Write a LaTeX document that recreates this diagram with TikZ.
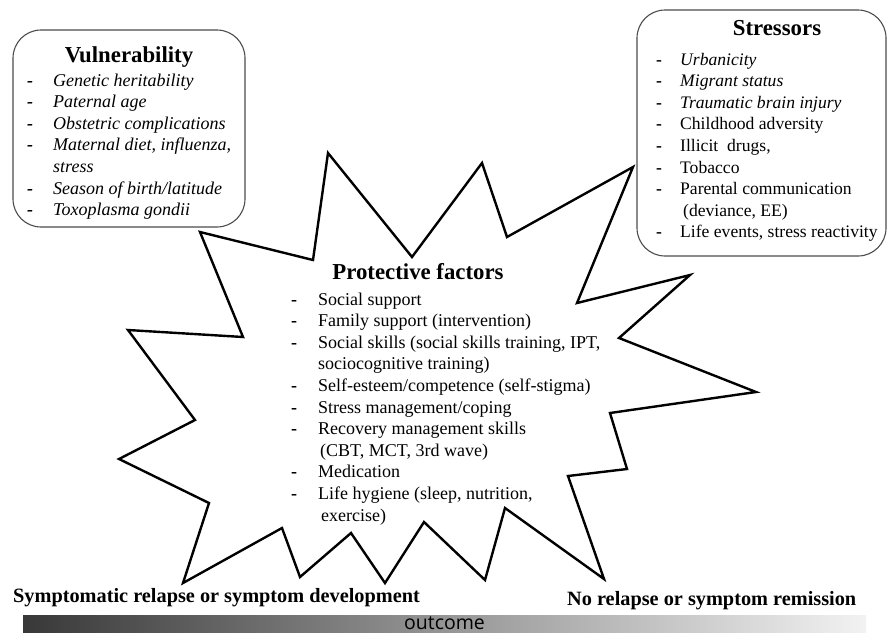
\documentclass[tikz,border=0pt]{standalone}
\usepackage{fontspec}
\setmainfont{Liberation Serif}
\newfontfamily\barfont{Open Sans}
\usepackage{array}
\usetikzlibrary{positioning}

\tikzset{
    riskbox/.style={draw=black!70, line width=1.1pt, rounded corners=28pt, inner sep=0pt},
    boxtitle/.style={font=\fontsize{22.8}{26}\selectfont\bfseries, inner sep=0pt, anchor=base},
    listtext/.style={font=\fontsize{18}{21.6}\selectfont, inner sep=0pt, anchor=base west},
    outcomelabel/.style={font=\fontsize{20.3}{24}\selectfont\bfseries, inner sep=0pt, anchor=base west},
    starline/.style={line width=2.4pt, line join=miter},
    outcomebar/.style={left color=black!78, right color=black!5, inner sep=0pt,
        minimum width=843pt, minimum height=17pt, font=\barfont\fontsize{19.5}{22}\selectfont}
}
\newcommand{\dashrow}[1]{\textbf{-}&#1\\}
\newcommand{\controw}[1]{&#1\\}

\begin{document}
\begin{tikzpicture}[x=1pt, y=-1pt]
    \useasboundingbox (0,0) rectangle (888,633);

    % Protective factors star
    \draw[starline] (200,232) -- (313,260) -- (328,153) -- (412,257) -- (482,163)
        -- (507,237) -- (633,167) -- (577,303) -- (690,275) -- (619,338)
        -- (756,392) -- (610,413) -- (627,469) -- (568,476) -- (604,579)
        -- (505,508) -- (485,580) -- (424,522) -- (385,583) -- (351,533)
        -- (300,577) -- (282,528) -- (183,583) -- (209,503) -- (119,459)
        -- (195,420) -- (128,330) -- (243,337) -- cycle;

    % Vulnerability
    \node[riskbox, minimum width=232pt, minimum height=197pt] (vuln) at (129,128.5) {};
    \node[boxtitle] (vulnT) at (129,62) {Vulnerability};
    \node[listtext] (vulnL) at (27,86) {\itshape
        \begin{tabular}[t]{@{}p{26pt}@{}l@{}}
        \dashrow{Genetic heritability}
        \dashrow{Paternal age}
        \dashrow{Obstetric complications}
        \dashrow{Maternal diet, influenza,}
        \controw{stress}
        \dashrow{Season of birth/latitude}
        \dashrow{Toxoplasma gondii}
        \end{tabular}};

    % Stressors
    \node[riskbox, minimum width=249pt, minimum height=246pt] (stress) at (761.5,133) {};
    \node[boxtitle] (stressT) at (777,35) {Stressors};
    \node[listtext, font=\fontsize{17.6}{21.6}\selectfont] (stressL) at (656,65) {%
        \begin{tabular}[t]{@{}p{24pt}@{}l@{}}
        \dashrow{\textit{Urbanicity}}
        \dashrow{\textit{Migrant status}}
        \dashrow{\textit{Traumatic brain injury}}
        \dashrow{Childhood adversity}
        \dashrow{Illicit\ \ drugs,}
        \dashrow{Tobacco}
        \dashrow{Parental communication}
        \controw{\hspace{3pt}(deviance, EE)}
        \dashrow{Life events, stress reactivity}
        \end{tabular}};

    % Protective factors
    \node[boxtitle] (protT) at (418,279) {Protective factors};
    \node[listtext] (protL) at (291,305) {%
        \begin{tabular}[t]{@{}p{27pt}@{}l@{}}
        \dashrow{Social support}
        \dashrow{Family support (intervention)}
        \dashrow{Social skills (social skills training, IPT,}
        \controw{sociocognitive training)}
        \dashrow{Self-esteem/competence (self-stigma)}
        \dashrow{Stress management/coping}
        \dashrow{Recovery management skills}
        \controw{\hspace{2pt}(CBT, MCT, 3rd wave)}
        \dashrow{Medication}
        \dashrow{Life hygiene (sleep, nutrition,}
        \controw{\hspace{3pt}exercise)}
        \end{tabular}};

    % Outcome
    \node[outcomelabel] (relapse) at (13,602) {Symptomatic\ relapse\ or symptom\ development};
    \node[outcomelabel] (remission) at (567,605) {No relapse\ or\ symptom\ remission};
    \node[outcomebar] (bar) at (444.5,623.5) {outcome};
\end{tikzpicture}
\end{document}
